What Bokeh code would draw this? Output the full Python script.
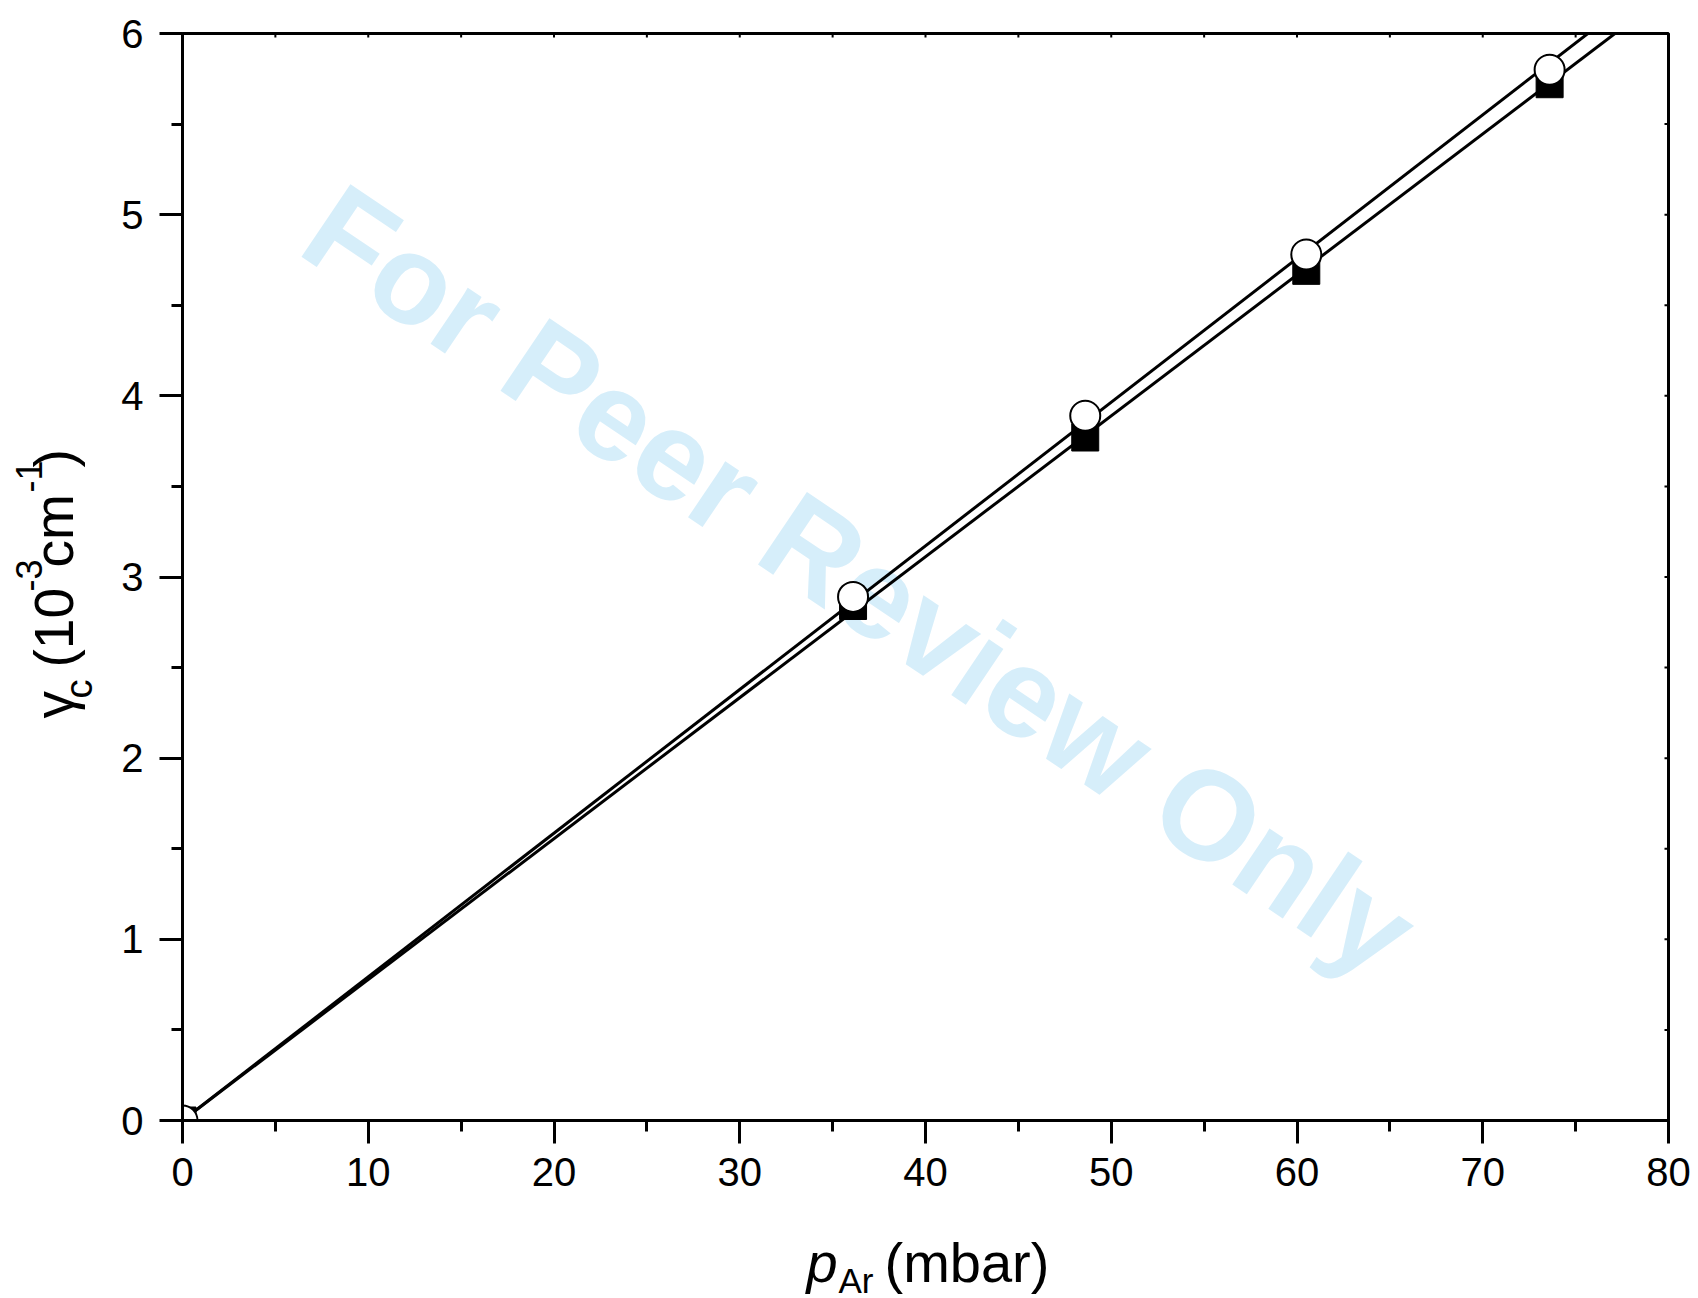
from bokeh.plotting import figure
from bokeh.layouts import row, column
from bokeh.models import Range1d, LinearAxis, SingleIntervalTicker, ColumnDataSource
from bokeh.core.properties import value
from bokeh.embed import file_html
from bokeh.resources import INLINE

# ---------------- data ----------------
pressure = [0.0, 36.1, 48.6, 60.5, 73.6]          # p_Ar (mbar)
gamma_square = [0.0, 2.84, 3.77, 4.69, 5.72]      # filled squares
gamma_circle = [0.0, 2.89, 3.89, 4.78, 5.80]      # open circles
slope_square = 0.0778                              # fitted line slopes (10^-3 cm^-1 / mbar)
slope_circle = 0.0793
fit_x = [0.0, 80.0]
x_ticks_major = 10
y_ticks_major = 1
watermark = "For Peer Review Only"

# ---------------- layout (pixels, whole page) ----------------
W, H = 1698, 1298
L, R, T, B = 182, 1668, 33, 1120      # frame edges on the page
YLAB_W = 100                          # strip for the y-axis title
MAIN_H = 1230                         # main figure height; x-axis title strip below
X0, X1, Y0, Y1 = 0, 80, 0, 6
PX_X = (R - L) / (X1 - X0)
PX_Y = (B - T) / (Y1 - Y0)
FONT = "Liberation Sans"
BASE_SHIFT = 0.35                     # renderer offset of the alphabetic baseline (em)


def dx(px):
    return X0 + (px - L) / PX_X


def dy(py):
    return Y0 + (B - py) / PX_Y


p = figure(width=W - YLAB_W, height=MAIN_H, output_backend="svg", toolbar_location=None,
           title=None, x_range=Range1d(X0, X1), y_range=Range1d(Y0, Y1),
           min_border_left=L - YLAB_W, min_border_right=W - R, min_border_top=T,
           min_border_bottom=MAIN_H - B, x_axis_location=None, y_axis_location=None)
p.background_fill_color = "white"
p.border_fill_color = "white"
p.grid.visible = False
p.outline_line_color = "black"
p.outline_line_width = 3


def make_axis(interval):
    ax = LinearAxis(ticker=SingleIntervalTicker(interval=interval, num_minor_ticks=2))
    ax.axis_line_color = "black"
    ax.axis_line_width = 3
    ax.major_tick_line_color = "black"
    ax.minor_tick_line_color = "black"
    ax.major_tick_line_width = 3
    ax.minor_tick_line_width = 3
    ax.major_tick_out = 23
    ax.major_tick_in = 0
    ax.minor_tick_out = 11
    ax.minor_tick_in = 0
    ax.major_label_text_font = FONT
    ax.major_label_text_font_size = "40px"
    ax.major_label_text_color = "black"
    return ax


xb = make_axis(x_ticks_major)
xb.major_label_standoff = 14
p.add_layout(xb, "below")
yl = make_axis(y_ticks_major)
yl.major_label_standoff = 16
p.add_layout(yl, "left")

# watermark
p.text(x=[dx(860)], y=[dy(580)], text=[watermark], text_font=value(FONT),
       text_font_style="bold", text_font_size="127px", text_color="#d6eefa",
       angle=-34, angle_units="deg", text_align="center", text_baseline="middle")

# tiny inward ticks on the top and right frame edges
top_ticks = list(range(X0, X1 + 1, 5))
right_ticks = [Y0 + 0.5 * i for i in range(int((Y1 - Y0) * 2) + 1)]
p.segment(x0=top_ticks, y0=[Y1] * len(top_ticks), x1=top_ticks,
          y1=[Y1 - 4 / PX_Y] * len(top_ticks), line_color="black", line_width=2)
p.segment(x0=[X1] * len(right_ticks), y0=right_ticks, x1=[X1 - 4 / PX_X] * len(right_ticks),
          y1=right_ticks, line_color="black", line_width=2)

# fitted lines
p.line(fit_x, [slope_circle * x for x in fit_x], line_color="black", line_width=3)
p.line(fit_x, [slope_square * x for x in fit_x], line_color="black", line_width=3)

src = ColumnDataSource(dict(x=pressure, ys=gamma_square, yc=gamma_circle))
p.scatter("x", "ys", source=src, marker="square", size=27, fill_color="black",
          line_color="black", line_width=1)
p.scatter("x", "yc", source=src, marker="circle", size=30, fill_color="white",
          line_color="black", line_width=2)


def strip(w, h, xr, yr):
    f = figure(width=w, height=h, output_backend="svg", toolbar_location=None, title=None,
               x_range=Range1d(*xr), y_range=Range1d(*yr), min_border=0,
               x_axis_location=None, y_axis_location=None)
    f.grid.visible = False
    f.outline_line_color = None
    f.background_fill_color = "white"
    f.border_fill_color = "white"
    return f


# y-axis title strip: frame covers page x 0..YLAB_W, y 0..H  (data y = H - page y)
fy = strip(YLAB_W, H, (0, YLAB_W), (0, H))
# x-axis title strip: its frame is aligned with the main frame, page x L..R
fx = strip(W - YLAB_W, H - MAIN_H, (L, R), (0, H - MAIN_H))


def put_h(text, gx, gy, size, style="normal"):
    fx.text(x=[gx], y=[H - gy + BASE_SHIFT * size], text=[text], text_font=value(FONT),
            text_font_size=f"{size}px", text_font_style=style, text_color="black",
            text_align="left", text_baseline="alphabetic")


def put_v(text, gx, gy, size):
    fy.text(x=[gx - BASE_SHIFT * size], y=[H - gy], text=[text], text_font=value(FONT),
            text_font_size=f"{size}px", text_color="black", angle=90, angle_units="deg",
            text_align="left", text_baseline="alphabetic")


# x axis title: p_Ar (mbar)
put_h("p", 806, 1282, 56, style="italic")
put_h("Ar", 838, 1292, 35)
put_h("(mbar)", 884, 1282, 56)

# y axis title: gamma_c (10^-3 cm^-1), rotated
put_v("\u03b3", 73, 718, 55)
put_v("c", 92, 698, 38)
put_v("(10", 73, 667, 55)
put_v("-3", 41, 591, 36)
put_v("cm", 73, 567, 55)
put_v("-1", 41, 492, 36)
put_v(")", 73, 467, 55)

layout = row(fy, column(p, fx, spacing=0), spacing=0)
open("out.html", "w").write(file_html(layout, INLINE))
